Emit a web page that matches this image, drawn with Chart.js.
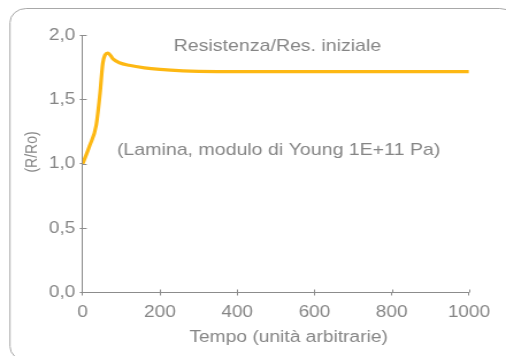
<!DOCTYPE html>
<html>
<head>
<meta charset="utf-8">
<script src="https://cdn.jsdelivr.net/npm/chart.js@4.4.1/dist/chart.umd.min.js"></script>
<style>
  html, body { margin: 0; padding: 0; background: #fff; overflow: hidden; }
  /* il grafico è disegnato a 440px e poi allargato in orizzontale (caratteri più larghi) */
  #wrap { position: absolute; left: 0; top: 0; width: 440px; height: 356px;
          transform: scaleX(1.15); transform-origin: 0 0; }
</style>
</head>
<body>
<div id="wrap"><canvas id="c"></canvas></div>
<script>
// ---------- dati ----------
const tempo   = [0, 18, 35, 45, 52, 58, 65, 72, 80, 95, 120, 160, 200, 260, 300, 400, 600, 800, 1000];
const rapporto = [1.00, 1.14, 1.30, 1.55, 1.78, 1.845, 1.86, 1.84, 1.81, 1.785, 1.765, 1.745, 1.733, 1.722, 1.718, 1.715, 1.715, 1.715, 1.715];
const xTicks = [0, 200, 400, 600, 800, 1000];
const xTickLabels = ['0', '200', '400', '600', '800', '1000'];
const yTicks = [0, 0.5, 1.0, 1.5, 2.0];
const yTickLabels = ['0,0', '0,5', '1,0', '1,5', '2,0'];

const serieNome = 'Resistenza/Res. iniziale';
const nota = '(Lamina, modulo di Young 1E+11 Pa)';
const titoloX = 'Tempo (unità arbitrarie)';
const titoloY = '(R/Ro)';

const GRIGIO = '#858585';
const ASSE = '#8c8c8c';
const GIALLO = '#fdb813';
const FONT = "'Liberation Sans', Arial, Helvetica, sans-serif";

// cornice arrotondata, testi e tacche interne
const decor = {
  id: 'decor',
  beforeDraw(chart) {
    const ctx = chart.ctx;
    ctx.save();
    ctx.strokeStyle = '#a8a8a8';
    ctx.lineWidth = 1;
    ctx.beginPath();
    ctx.roundRect(8.7, 8.5, 440, 352, 14);
    ctx.stroke();
    ctx.restore();
  },
  afterDraw(chart) {
    const ctx = chart.ctx;
    const { x, y } = chart.scales;
    const a = chart.chartArea;
    ctx.save();
    // tacche verso l'interno
    ctx.strokeStyle = ASSE;
    ctx.lineWidth = 1;
    ctx.beginPath();
    xTicks.slice(1).forEach(v => {
      const px = Math.round(x.getPixelForValue(v)) + 0.5;
      ctx.moveTo(px, a.bottom); ctx.lineTo(px, a.bottom - 3);
    });
    yTicks.slice(1).forEach(v => {
      const py = Math.round(y.getPixelForValue(v)) + 0.5;
      ctx.moveTo(a.left, py); ctx.lineTo(a.left + 3.5, py);
    });
    ctx.stroke();

    ctx.fillStyle = GRIGIO;
    ctx.textBaseline = 'alphabetic';
    ctx.font = '17px ' + FONT;
    ctx.textAlign = 'center';
    ctx.fillText(serieNome, 241.3, 50.5);
    ctx.textAlign = 'left';
    ctx.fillText(nota, 101.7, 155);
    ctx.textAlign = 'center';
    ctx.font = '16.7px ' + FONT;
    ctx.fillText(titoloX, 251, 342);
    ctx.translate(31.8, 152);
    ctx.rotate(-Math.PI / 2);
    ctx.font = '14px ' + FONT;
    ctx.fillText(titoloY, 0, 0);
    ctx.restore();
  }
};

new Chart(document.getElementById('c'), {
  type: 'line',
  data: {
    datasets: [{
      label: serieNome,
      data: tempo.map((t, i) => ({ x: t, y: rapporto[i] })),
      borderColor: GIALLO,
      borderWidth: 3.2,
      pointRadius: 0,
      cubicInterpolationMode: 'monotone',
      fill: false,
    }]
  },
  options: {
    responsive: true,
    maintainAspectRatio: false,
    animation: false,
    events: [],
    layout: { padding: { left: 0, right: 32.2, top: 35, bottom: 0 } },
    plugins: { legend: { display: false }, tooltip: { enabled: false } },
    scales: {
      x: {
        type: 'linear', min: 0, max: 1000,
        afterBuildTicks: s => { s.ticks = xTicks.map(v => ({ value: v })); },
        afterFit: s => { s.height = 63.5; },
        border: { display: true, color: ASSE, width: 1 },
        grid: { drawOnChartArea: false, drawTicks: true, tickLength: 3, tickColor: ASSE },
        ticks: {
          color: GRIGIO, padding: 7, maxRotation: 0, font: { family: FONT, size: 16.5 },
          callback: (v) => xTickLabels[xTicks.indexOf(v)],
        },
      },
      y: {
        type: 'linear', min: 0, max: 2,
        afterBuildTicks: s => { s.ticks = yTicks.map(v => ({ value: v })); },
        afterFit: s => { s.width = 71.9; },
        border: { display: true, color: ASSE, width: 1 },
        grid: { drawOnChartArea: false, drawTicks: true, tickLength: 2.5, tickColor: ASSE },
        ticks: {
          color: GRIGIO, padding: 4, font: { family: FONT, size: 16.5 },
          callback: (v) => yTickLabels[yTicks.indexOf(v)],
        },
      },
    },
  },
  plugins: [decor],
});
</script>
</body>
</html>
